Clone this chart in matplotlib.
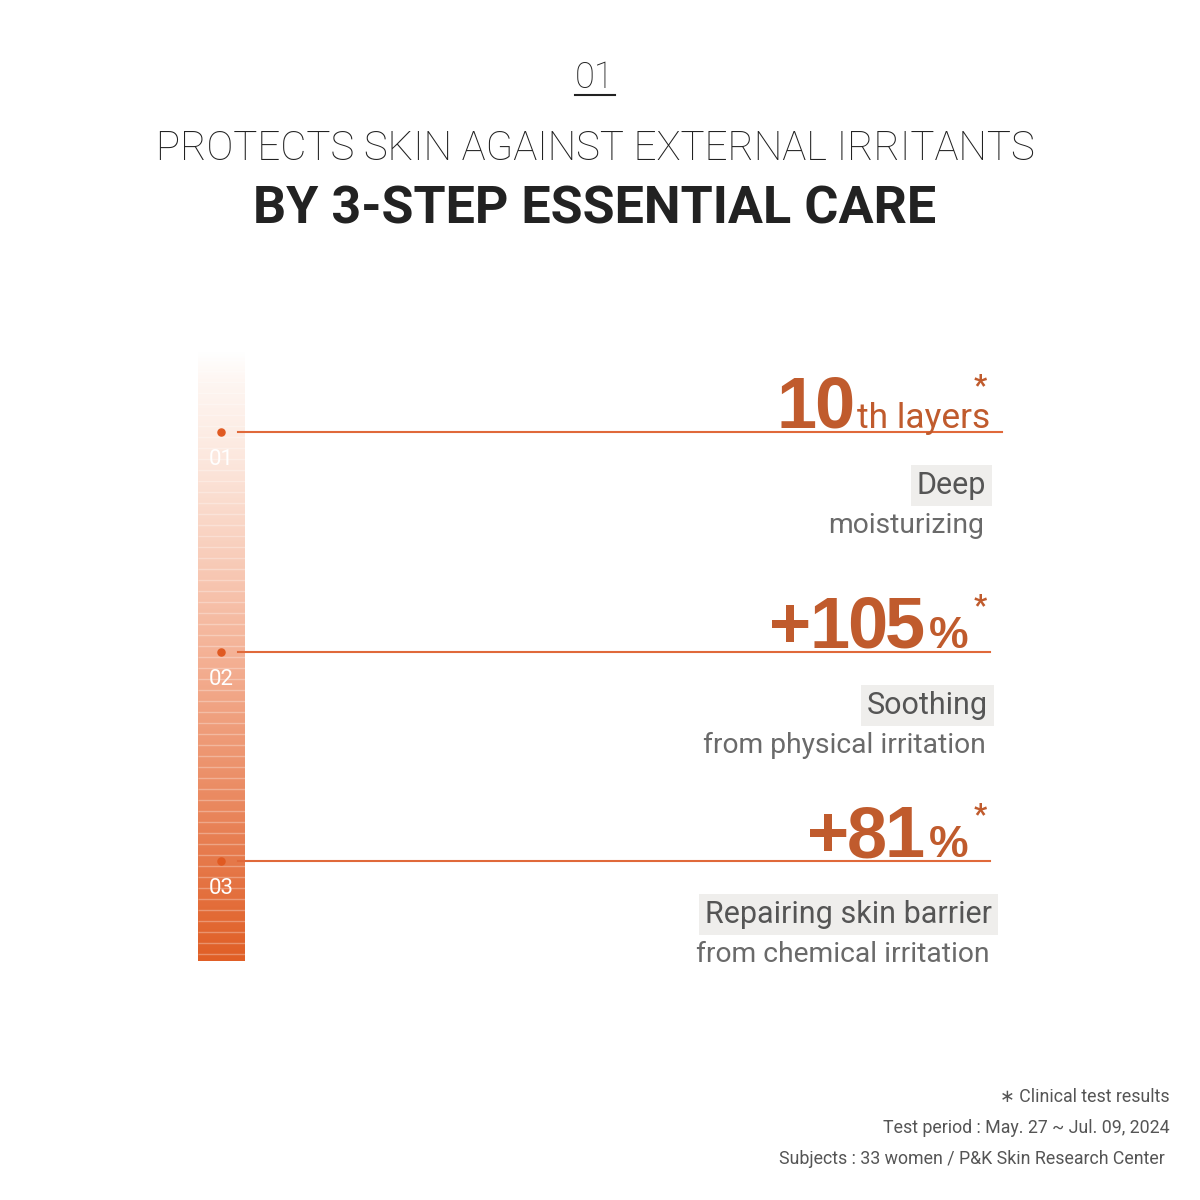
import numpy as np
import matplotlib.pyplot as plt
from matplotlib.colors import LinearSegmentedColormap

# content
step_labels = ["01", "02", "03"]
values = ["10", "+105", "+81"]
units = ["th layers", "%", "%"]
headlines = ["Deep", "Soothing", "Repairing skin barrier"]
sublines = ["moisturizing", "from physical irritation", "from chemical irritation"]
footer = ["\u2217 Clinical test results",
          "Test period : May. 27 ~ Jul. 09, 2024",
          "Subjects : 33 women / P&K Skin Research Center"]

# layout (pixel space)
row_y = [432, 652, 861]
line_end = [1002, 990, 990]
unit_right = [990, 968, 968]
head_right = [986, 988, 992]

ORANGE_TXT = "#C05B2D"
ORANGE_LINE = "#E0693A"

plt.rcParams["font.family"] = ["Roboto", "DejaVu Sans"]

fig = plt.figure(figsize=(12, 12), dpi=100)
ax = fig.add_axes([0, 0, 1, 1])
ax.set_xlim(0, 1200)
ax.set_ylim(1200, 0)
ax.axis("off")

fig.canvas.draw()
renderer = fig.canvas.get_renderer()
inv = ax.transData.inverted()


def left_of(t):
    bb = t.get_window_extent(renderer)
    return inv.transform((bb.x0, bb.y0))[0]


def tight(x_right, y, s, overlap, **kw):
    # draw a string right-aligned, one glyph at a time, with negative tracking
    x = x_right
    for ch in reversed(s):
        t = ax.text(x, y, ch, ha="right", va="baseline", **kw)
        x = left_of(t) + overlap
    return x


# header
ax.text(595, 88, "01", ha="center", va="baseline", fontsize=26, color="#222222", fontweight="light")
ax.plot([575, 615], [95, 95], color="#222222", lw=1.5)
ax.text(595, 160, "PROTECTS SKIN AGAINST EXTERNAL IRRITANTS", ha="center", va="baseline",
        fontsize=29, color="#222222", fontweight="light")
ax.text(595, 224, "BY 3-STEP ESSENTIAL CARE", ha="center", va="baseline",
        fontsize=37.5, color="#222222", fontweight="bold")

# gradient bar
cmap = LinearSegmentedColormap.from_list("bar", [
    (0.0, "#FFFFFF"), (0.05, "#FEF6F2"), (0.18, "#FCE7DD"), (0.5, "#F4B195"),
    (0.83, "#E67A4C"), (1.0, "#E05F26")])
grad = np.linspace(0, 1, 400).reshape(-1, 1)
ax.imshow(grad, cmap=cmap, extent=[198, 245, 961, 350], aspect="auto", zorder=1)
stripes = np.arange(360, 961, 11)
ax.hlines(stripes, 198, 245, color="white", alpha=0.3, lw=1, zorder=2)

for i, y in enumerate(row_y):
    ax.plot([238, line_end[i]], [y, y], color=ORANGE_LINE, lw=1.5, zorder=3)
    ax.scatter([221], [y], s=26, color="#E05A22", zorder=4)
    ax.text(221, y + 33, step_labels[i], ha="center", va="baseline", fontsize=16,
            color="white", zorder=4)

    base = y - 4
    if units[i] == "%":
        u = ax.text(unit_right[i], base, units[i], ha="right", va="baseline", fontsize=32,
                    color=ORANGE_TXT, fontweight="bold", family=["Liberation Sans"])
        gap = -4
    else:
        u = ax.text(unit_right[i], base, units[i], ha="right", va="baseline", fontsize=25.5,
                    color=ORANGE_TXT)
        gap = -2
    tight(left_of(u) + gap, base, values[i], 2.5, fontsize=52,
          color=ORANGE_TXT, fontweight="bold", family=["Liberation Sans"])
    ax.text(980, y - 38, "*", ha="center", va="baseline", fontsize=21,
            color=ORANGE_TXT, fontweight="bold")

    ax.text(head_right[i], y + 62, headlines[i], ha="right", va="baseline", fontsize=22,
            color="#555555",
            bbox=dict(boxstyle="square,pad=0.2", facecolor="#EFEEEC", edgecolor="none"))
    ax.text(head_right[i] - 2, y + 101, sublines[i], ha="right", va="baseline", fontsize=20.3,
            color="#6a6a6a")

# footer
for k, line in enumerate(footer):
    ax.text(1170 - (5 if k == 2 else 0), 1102 + 31 * k, line, ha="right", va="baseline",
            fontsize=12.8, color="#555555")

fig.savefig("out.png", dpi=100, facecolor="white")
